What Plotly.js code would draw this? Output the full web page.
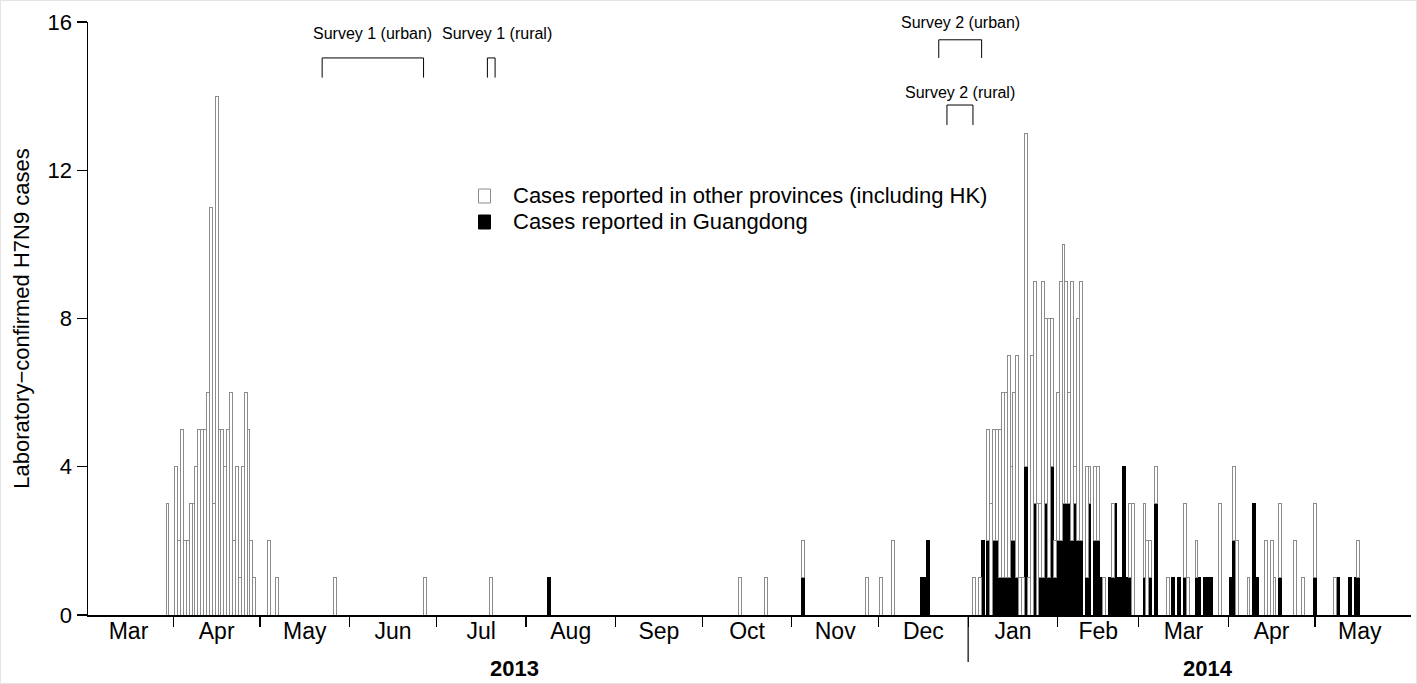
<!DOCTYPE html>
<html>
<head>
<meta charset="utf-8">
<script src="https://cdn.plot.ly/plotly-3.0.1.min.js"></script>
<style>
html,body{margin:0;padding:0;background:#fff;}
#chart{width:1417px;height:684px;}
#frame{position:absolute;left:0;top:0;width:1417px;height:684px;box-sizing:border-box;border:1px solid #e4e4e4;pointer-events:none;}
</style>
</head>
<body>
<div id="chart"></div>
<div id="frame"></div>
<script>
// ---------- DATA (daily counts of laboratory-confirmed H7N9 cases) ----------
const dates = [
 '2013-03-30','2013-04-02','2013-04-03','2013-04-04','2013-04-05','2013-04-06','2013-04-07','2013-04-08',
 '2013-04-09','2013-04-10','2013-04-11','2013-04-12','2013-04-13','2013-04-14','2013-04-15','2013-04-16',
 '2013-04-17','2013-04-18','2013-04-19','2013-04-20','2013-04-21','2013-04-22','2013-04-23','2013-04-24',
 '2013-04-25','2013-04-26','2013-04-27','2013-04-28','2013-04-29','2013-05-04','2013-05-07','2013-05-27',
 '2013-06-27','2013-07-20','2013-08-09','2013-10-14','2013-10-23','2013-11-05','2013-11-27','2013-12-02',
 '2013-12-06','2013-12-16','2013-12-17','2013-12-18',
 '2014-01-03','2014-01-05','2014-01-06','2014-01-08','2014-01-09','2014-01-10','2014-01-11','2014-01-12',
 '2014-01-13','2014-01-14','2014-01-15','2014-01-16','2014-01-17','2014-01-18','2014-01-19','2014-01-20',
 '2014-01-21','2014-01-22','2014-01-23','2014-01-24','2014-01-25','2014-01-26','2014-01-27','2014-01-28',
 '2014-01-29','2014-01-30','2014-01-31','2014-02-01','2014-02-02','2014-02-03','2014-02-04','2014-02-05',
 '2014-02-06','2014-02-07','2014-02-08','2014-02-09','2014-02-11','2014-02-12','2014-02-14','2014-02-15',
 '2014-02-16','2014-02-17','2014-02-19','2014-02-20','2014-02-21','2014-02-22','2014-02-23','2014-02-24',
 '2014-02-25','2014-02-26','2014-02-27','2014-02-28','2014-03-03','2014-03-04','2014-03-05','2014-03-07',
 '2014-03-11','2014-03-13','2014-03-15','2014-03-17','2014-03-18','2014-03-21','2014-03-22','2014-03-24',
 '2014-03-25','2014-03-26','2014-03-29','2014-04-02','2014-04-03','2014-04-04','2014-04-08','2014-04-10',
 '2014-04-11','2014-04-14','2014-04-16','2014-04-17','2014-04-19','2014-04-24','2014-04-27','2014-05-01',
 '2014-05-08','2014-05-09','2014-05-13','2014-05-15','2014-05-16'
];
// Cases reported in Guangdong
const guangdong = [
 0,0,0,0,0,0,0,0, 0,0,0,0,0,0,0,0, 0,0,0,0,0,0,0,0, 0,0,0,0,0,0,0,0,
 0,0,1,0,0,1,0,0, 0,1,1,2,
 0,0,2,2,0,2,2,1, 1,1,1,2,2,1,0,0, 4,0,0,3,0,1,1,3, 1,4,1,2,2,3,3,3,
 2,3,2,2,1,3,2,2, 1,0,1,1,3,1,1,4, 1,1,0,0,1,0,1,3, 0,1,1,1,0,1,1,1,
 1,1,0,1,2,0,0,3, 1,0,0,0,1,0,0,1, 0,1,1,1,1
];
// Cases reported in other provinces (including HK)
const otherProvinces = [
 3,4,2,5,2,2,3,3, 4,5,5,5,6,11,3,14, 5,5,4,5,6,2,4,1, 4,6,5,2,1,2,1,1,
 1,1,0,1,1,1,1,1, 2,0,0,0,
 1,1,0,3,3,3,3,4, 5,5,6,2,4,6,1,1, 9,1,7,6,3,2,8,5, 7,4,1,4,7,7,6,3,
 7,1,6,7,3,1,2,2, 0,1,0,2,0,0,0,0, 0,2,3,0,2,2,1,1, 1,0,0,2,1,1,0,0,
 0,0,3,0,2,2,1,0, 0,2,2,1,2,2,1,2, 1,0,0,0,1
];
const monthLabels = ['Mar','Apr','May','Jun','Jul','Aug','Sep','Oct','Nov','Dec','Jan','Feb','Mar','Apr','May'];
const monthStarts = ['2013-03-01','2013-04-01','2013-05-01','2013-06-01','2013-07-01','2013-08-01','2013-09-01',
 '2013-10-01','2013-11-01','2013-12-01','2014-01-01','2014-02-01','2014-03-01','2014-04-01','2014-05-01','2014-06-01'];
const yearLabels = ['2013','2014'];
const yearLabelDates = ['2013-07-28','2014-03-25'];
const yTicks = [0,4,8,12,16];
const surveyNames = ['Survey 1 (urban)','Survey 1 (rural)','Survey 2 (urban)','Survey 2 (rural)'];
const surveyStart = ['2013-05-22 12:00','2013-07-18 16:00','2013-12-21 20:00','2013-12-24 16:00'];
const surveyEnd   = ['2013-06-26 14:00','2013-07-21 08:00','2014-01-05 16:00','2014-01-02 16:00'];

// ---------- LAYOUT HELPERS ----------
const DAY = 86400000;
const T0 = Date.UTC(2013,2,1);
const toStr = ms => new Date(ms).toISOString().slice(0,19).replace('T',' ');
const ms = s => Date.parse(s.replace(' ','T')+(s.length>10?':00Z':'T00:00:00Z'));
const xRange = [toStr(T0 + 1.49*DAY), toStr(T0 + 459.22*DAY)];
const tickStarts = monthStarts.slice(1, monthStarts.length-1);
const monthMids = monthLabels.map((m,i)=> toStr((ms(monthStarts[i]) + ms(monthStarts[i+1]))/2));

const FONT = 'Liberation Sans, Arial, Helvetica, sans-serif';
const nz = a => a.map(v => v === 0 ? null : v);

const gdStyle = {color:'#000000', line:{color:'#000000', width:1}};
const otherStyle = {color:'#ffffff', line:{color:'#8c8c8c', width:1}};
const traces = [
 {type:'bar', x:dates, y:nz(guangdong), name:'Cases reported in Guangdong', width:DAY,
  marker:gdStyle, hoverinfo:'skip', showlegend:false},
 {type:'bar', x:dates, y:nz(otherProvinces), name:'Cases reported in other provinces (including HK)', width:DAY,
  marker:otherStyle, hoverinfo:'skip', showlegend:false},
 {type:'scatter', x:[monthMids[0]], y:[0], xaxis:'x2', yaxis:'y', mode:'markers',
  marker:{opacity:0, size:1}, showlegend:false, hoverinfo:'skip'}
];

// plot-area geometry (px) for paper conversions
const PL = 88, PR = 1411, PT = 22, PB = 615;
const px2paperX = x => (x-PL)/(PR-PL);
const px2paperY = y => (PB-y)/(PB-PT);

const shapes = [];
const annotations = [];

// survey brackets: [top level, leg bottom level, label centre level] in y units
const surveyLevels = [[15.03,14.5,15.68],[15.03,14.5,15.68],[15.52,15.03,16.0],[13.76,13.22,14.11]];
surveyNames.forEach((nm,i)=>{
  const [top,bot,lab] = surveyLevels[i];
  const ln = {color:'#000', width:1};
  shapes.push({type:'line', xref:'x', yref:'y', x0:surveyStart[i], x1:surveyEnd[i], y0:top, y1:top, line:ln});
  shapes.push({type:'line', xref:'x', yref:'y', x0:surveyStart[i], x1:surveyStart[i], y0:top, y1:bot, line:ln});
  shapes.push({type:'line', xref:'x', yref:'y', x0:surveyEnd[i], x1:surveyEnd[i], y0:top, y1:bot, line:ln});
  const mid = toStr((ms(surveyStart[i]) + ms(surveyEnd[i]))/2);
  annotations.push({xref:'x', yref:'paper', x:mid, y:lab/16, yanchor:'middle', xanchor:'center', text:nm,
    showarrow:false, xshift: i===1 ? 6 : 0, font:{family:FONT, size:16, color:'#000'}});
});

// custom legend (same order as reference: other provinces, then Guangdong)
const legendEntries = [[traces[1].name, otherStyle],[traces[0].name, gdStyle]];
legendEntries.forEach(([name, st], i)=>{
  const cy = 196 + i*26;
  shapes.push({type:'rect', xref:'paper', yref:'paper', x0:px2paperX(478.5), x1:px2paperX(490.5),
    y0:px2paperY(cy-7), y1:px2paperY(cy+7), fillcolor:st.color, line:{color:st.line.color, width:1}});
  annotations.push({xref:'paper', yref:'paper', x:px2paperX(511), y:px2paperY(cy), xanchor:'left', yanchor:'middle',
    text:name, showarrow:false, font:{family:FONT, size:22, color:'#000'}});
});

// long separator tick between years
shapes.push({type:'line', xref:'x', yref:'paper', x0:'2014-01-01', x1:'2014-01-01', y0:0, y1:px2paperY(662),
  line:{color:'#000', width:1.2}});
yearLabels.forEach((t,i)=>{
  annotations.push({xref:'x', yref:'paper', x:yearLabelDates[i], y:px2paperY(668), text:'<b>'+t+'</b>',
    showarrow:false, yanchor:'middle', font:{family:FONT, size:22, color:'#000'}});
});

const layout = {
  width:1417, height:684,
  margin:{l:88, r:6, t:22, b:69},
  paper_bgcolor:'#ffffff', plot_bgcolor:'#ffffff',
  barmode:'stack', bargap:0,
  font:{family:FONT, color:'#000'},
  showlegend:false,
  xaxis:{type:'date', range:xRange, tickvals:tickStarts, ticktext:tickStarts.map(()=>''),
         ticks:'outside', ticklen:10, tickwidth:1.2, tickcolor:'#000',
         showline:true, linecolor:'#000', linewidth:1.5, showgrid:false, zeroline:false, fixedrange:true},
  xaxis2:{type:'date', overlaying:'x', anchor:'y', side:'bottom', range:xRange,
          tickvals:monthMids, ticktext:monthLabels, ticks:'', showline:false, showgrid:false, zeroline:false,
          tickfont:{family:FONT, size:23, color:'#000'}, ticklabelstandoff:0},
  yaxis:{range:[0,16], tickvals:yTicks, ticktext:yTicks.map(String), ticks:'outside', ticklen:10, tickwidth:1.2,
         tickcolor:'#000', showline:true, linecolor:'#000', linewidth:1.5, showgrid:false, zeroline:false,
         tickfont:{family:FONT, size:22, color:'#000'},
         title:{text:'Laboratory\u2212confirmed H7N9 cases', font:{family:FONT, size:22, color:'#000'}, standoff:12}},
  shapes:shapes,
  annotations:annotations
};

Plotly.newPlot('chart', traces, layout, {displayModeBar:false, staticPlot:true});
</script>
</body>
</html>
